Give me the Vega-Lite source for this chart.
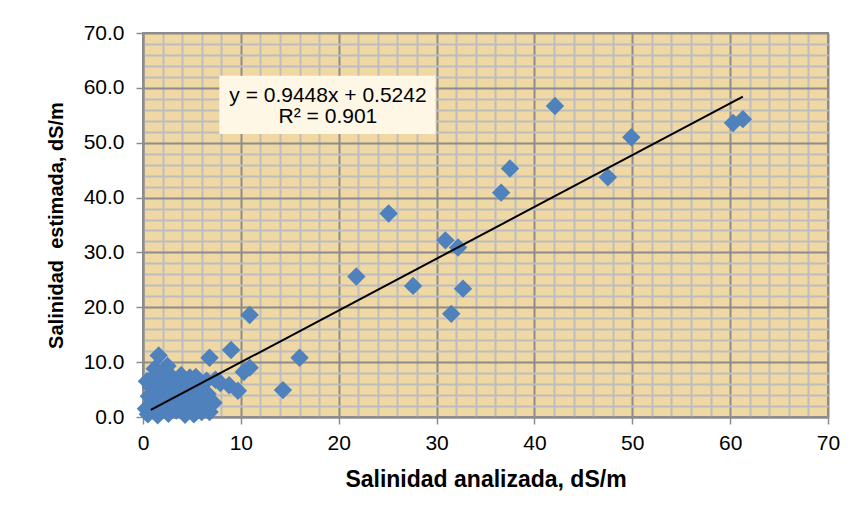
{
  "$schema": "https://vega.github.io/schema/vega-lite/v6.json",
  "autosize": {"type": "none"},
  "padding": {"left": 143, "top": 33, "right": 29, "bottom": 99},
  "width": 685,
  "height": 384,
  "background": "#ffffff",
  "config": {
    "font": "Liberation Sans",
    "view": {"fill": "#EFD8A3", "stroke": "#8C8C8C", "strokeWidth": 2},
    "axis": {
      "labelFont": "Liberation Sans",
      "titleFont": "Liberation Sans",
      "labelColor": "#000000",
      "titleColor": "#000000",
      "domainColor": "#8C8C8C",
      "domainWidth": 2,
      "tickColor": "#8C8C8C",
      "tickWidth": 1.5,
      "tickSize": 7,
      "gridWidth": 2,
      "labelOverlap": false,
      "labelFlush": false,
      "tickCount": 100
    }
  },
  "datasets": {
    "points": [
      {"analizada": 0.5, "estimada": 0.5}, {"analizada": 0.7, "estimada": 2.0}, {"analizada": 0.6, "estimada": 3.8},
      {"analizada": 0.8, "estimada": 5.5}, {"analizada": 1.0, "estimada": 7.2}, {"analizada": 1.2, "estimada": 8.8},
      {"analizada": 1.6, "estimada": 11.2}, {"analizada": 1.0, "estimada": 1.2}, {"analizada": 1.3, "estimada": 3.0},
      {"analizada": 1.5, "estimada": 0.3}, {"analizada": 1.8, "estimada": 4.8}, {"analizada": 1.9, "estimada": 6.5},
      {"analizada": 2.0, "estimada": 8.0}, {"analizada": 2.2, "estimada": 1.8}, {"analizada": 2.4, "estimada": 2.8},
      {"analizada": 2.6, "estimada": 0.6}, {"analizada": 2.8, "estimada": 5.2}, {"analizada": 3.0, "estimada": 7.2},
      {"analizada": 3.2, "estimada": 3.9}, {"analizada": 3.4, "estimada": 1.2}, {"analizada": 3.9, "estimada": 7.6},
      {"analizada": 3.8, "estimada": 6.0}, {"analizada": 4.0, "estimada": 2.3}, {"analizada": 4.3, "estimada": 0.4},
      {"analizada": 4.5, "estimada": 4.5}, {"analizada": 4.8, "estimada": 7.2}, {"analizada": 5.0, "estimada": 1.5},
      {"analizada": 5.3, "estimada": 3.2}, {"analizada": 5.4, "estimada": 7.3}, {"analizada": 5.6, "estimada": 5.5},
      {"analizada": 5.8, "estimada": 4.0}, {"analizada": 6.0, "estimada": 0.9}, {"analizada": 6.2, "estimada": 2.5},
      {"analizada": 6.5, "estimada": 6.6}, {"analizada": 6.8, "estimada": 10.8}, {"analizada": 6.8, "estimada": 0.9},
      {"analizada": 7.2, "estimada": 2.6}, {"analizada": 7.4, "estimada": 6.8}, {"analizada": 7.9, "estimada": 6.2},
      {"analizada": 0.3, "estimada": 1.5}, {"analizada": 0.4, "estimada": 6.5}, {"analizada": 2.5, "estimada": 9.3},
      {"analizada": 3.5, "estimada": 4.8}, {"analizada": 4.6, "estimada": 3.0}, {"analizada": 1.6, "estimada": 2.2},
      {"analizada": 2.7, "estimada": 3.8}, {"analizada": 6.6, "estimada": 4.2}, {"analizada": 5.2, "estimada": 0.5},
      {"analizada": 8.8, "estimada": 5.8}, {"analizada": 9.0, "estimada": 12.2}, {"analizada": 9.7, "estimada": 4.8},
      {"analizada": 10.3, "estimada": 8.2}, {"analizada": 10.9, "estimada": 9.0},
      {"analizada": 10.9, "estimada": 18.6}, {"analizada": 16.0, "estimada": 10.8}, {"analizada": 14.3, "estimada": 4.9},
      {"analizada": 21.8, "estimada": 25.6}, {"analizada": 25.1, "estimada": 37.1}, {"analizada": 27.6, "estimada": 23.9},
      {"analizada": 30.9, "estimada": 32.2}, {"analizada": 32.2, "estimada": 30.9}, {"analizada": 32.7, "estimada": 23.4},
      {"analizada": 31.5, "estimada": 18.8}, {"analizada": 36.6, "estimada": 40.9}, {"analizada": 37.5, "estimada": 45.3},
      {"analizada": 42.1, "estimada": 56.7}, {"analizada": 47.5, "estimada": 43.7}, {"analizada": 49.9, "estimada": 51.0},
      {"analizada": 60.3, "estimada": 53.6}, {"analizada": 61.3, "estimada": 54.3}
    ],
    "trend": [
      {"analizada": 0.8, "estimada": 1.3},
      {"analizada": 61.3, "estimada": 58.4}
    ],
    "box": [
      {"x1": 7.8, "x2": 29.9, "y1": 51.6, "y2": 62.2}
    ],
    "labels": [
      {"x": 18.9, "y": 58.5, "text": "y = 0.9448x + 0.5242"},
      {"x": 18.9, "y": 54.7, "text": "R² = 0.901"}
    ]
  },
  "layer": [
    {
      "data": {"name": "points"},
      "mark": {"type": "point", "shape": "diamond", "filled": true, "size": 340, "color": "#4F81BD", "opacity": 1},
      "encoding": {
        "x": {
          "field": "analizada", "type": "quantitative",
          "scale": {"domain": [0, 70], "nice": false, "zero": false},
          "axis": {
            "title": "Salinidad analizada, dS/m",
            "titleFontSize": 23,
            "titleFontWeight": "bold",
            "titlePadding": 15,
            "labelFontSize": 21,
            "labelPadding": 8,
            "tickCount": 100,
            "values": [0,2,4,6,8,10,12,14,16,18,20,22,24,26,28,30,32,34,36,38,40,42,44,46,48,50,52,54,56,58,60,62,64,66,68,70],
            "labelExpr": "datum.value % 10 === 0 ? format(datum.value, 'd') : ''",
            "gridColor": {"condition": {"test": "datum.value % 10 === 0", "value": "#8C8C8C"}, "value": "#BDBDBD"},
            "tickOpacity": {"condition": {"test": "datum.value % 10 === 0", "value": 1}, "value": 0}
          }
        },
        "y": {
          "field": "estimada", "type": "quantitative",
          "scale": {"domain": [0, 70], "nice": false, "zero": false},
          "axis": {
            "title": "Salinidad \u00a0estimada, dS/m",
            "titleFontSize": 20,
            "titleFontWeight": "bold",
            "titlePadding": 17,
            "labelFontSize": 21,
            "labelPadding": 12,
            "tickCount": 100,
            "values": [0,2,4,6,8,10,12,14,16,18,20,22,24,26,28,30,32,34,36,38,40,42,44,46,48,50,52,54,56,58,60,62,64,66,68,70],
            "labelExpr": "datum.value % 10 === 0 ? format(datum.value, '.1f') : ''",
            "gridColor": {"condition": {"test": "datum.value % 10 === 0", "value": "#8C8C8C"}, "value": "#BDBDBD"},
            "tickOpacity": {"condition": {"test": "datum.value % 10 === 0", "value": 1}, "value": 0}
          }
        }
      }
    },
    {
      "data": {"name": "trend"},
      "mark": {"type": "line", "color": "#000000", "strokeWidth": 2},
      "encoding": {
        "x": {"field": "analizada", "type": "quantitative"},
        "y": {"field": "estimada", "type": "quantitative"}
      }
    },
    {
      "data": {"name": "box"},
      "mark": {"type": "rect", "fill": "#FEF7E6", "stroke": null},
      "encoding": {
        "x": {"field": "x1", "type": "quantitative"},
        "x2": {"field": "x2"},
        "y": {"field": "y1", "type": "quantitative"},
        "y2": {"field": "y2"}
      }
    },
    {
      "data": {"name": "labels"},
      "mark": {"type": "text", "fontSize": 21, "color": "#000000", "align": "center", "baseline": "middle", "font": "Liberation Sans"},
      "encoding": {
        "x": {"field": "x", "type": "quantitative"},
        "y": {"field": "y", "type": "quantitative"},
        "text": {"field": "text"}
      }
    }
  ]
}
